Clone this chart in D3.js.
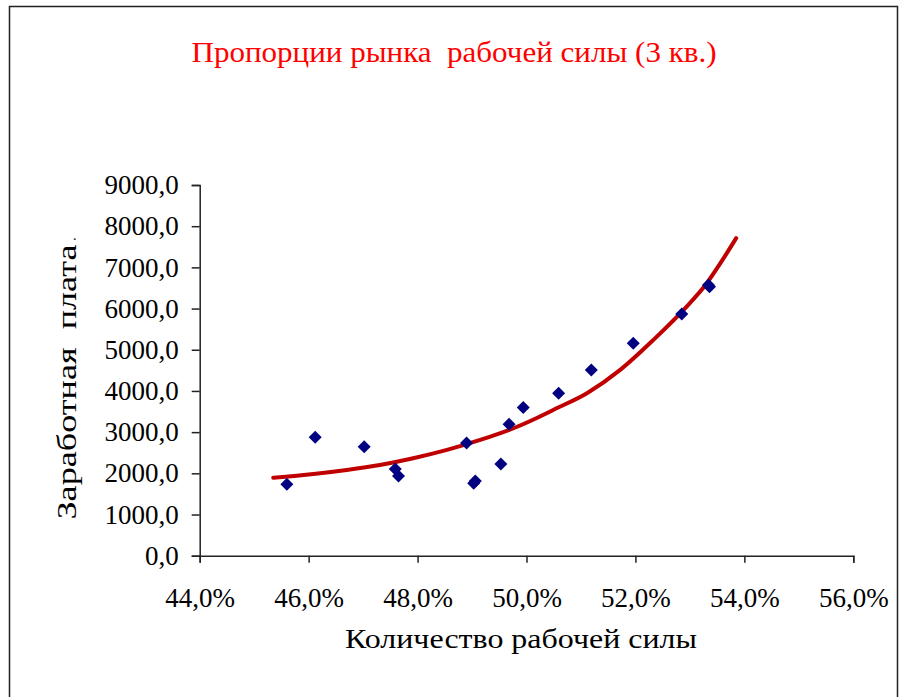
<!DOCTYPE html>
<html>
<head>
<meta charset="utf-8">
<script src="https://cdn.jsdelivr.net/npm/d3@7"></script>
</head>
<body style="margin:0;background:#fff">
<svg id="chart" width="906" height="697" style="display:block"></svg>
<script>
// ---- data ----
const laborShare = [0.4560, 0.4612, 0.4702, 0.4759, 0.4765, 0.4890, 0.4903, 0.4906,
                    0.4953, 0.4968, 0.4994, 0.5059, 0.5119, 0.5196, 0.5285, 0.5334, 0.5336];
const wage = [1734, 2876, 2648, 2106, 1936, 2737, 1758, 1814,
              2227, 3191, 3596, 3944, 4511, 5159, 5871, 6575, 6530];

const trendX = [0.4535, 0.4609, 0.4670, 0.4731, 0.4792, 0.4854, 0.4915, 0.4976,
                0.5037, 0.5049, 0.5111, 0.5172, 0.5233, 0.5294, 0.5331, 0.5356, 0.5385];
const trendY = [1895, 1985, 2082, 2203, 2366, 2568, 2810, 3094,
                3459, 3539, 3945, 4511, 5240, 6048, 6616, 7102, 7710];

const xTicks = [0.44, 0.46, 0.48, 0.50, 0.52, 0.54, 0.56];
const yTicks = [0, 1000, 2000, 3000, 4000, 5000, 6000, 7000, 8000, 9000];

const titleText = "Пропорции рынка  рабочей силы (3 кв.)";
const xTitleText = "Количество рабочей силы";
const yTitleText = "Заработная  плата";

// ---- drawing ----
const FONT = '"Liberation Serif", Tinos, "Times New Roman", FreeSerif';
const svg = d3.select("#chart");

// outer frame (left, top, right)
svg.append("path")
  .attr("d", "M9.5,700 V6.5 H897.5 V700")
  .attr("fill", "none")
  .attr("stroke", "#222")
  .attr("stroke-width", 1.5);

const x = d3.scaleLinear().domain([0.44, 0.56]).range([199.7, 853.3]);
const y = d3.scaleLinear().domain([0, 9000]).range([555.7, 185]);

const fmtY = d => d.toFixed(1).replace(".", ",");
const fmtX = d => (d * 100).toFixed(1).replace(".", ",") + "%";

const yAxis = svg.append("g")
  .attr("transform", `translate(${x(0.44)},0)`)
  .call(d3.axisLeft(y).tickValues(yTicks).tickFormat(fmtY).tickSize(8).tickPadding(13));
const xAxis = svg.append("g")
  .attr("transform", `translate(0,${y(0)})`)
  .call(d3.axisBottom(x).tickValues(xTicks).tickFormat(fmtX).tickSize(7).tickPadding(25));

[xAxis, yAxis].forEach(g => {
  g.attr("font-family", FONT).attr("font-size", 27);
  g.select(".domain").attr("stroke", "#222").attr("stroke-width", 1.5);
  g.selectAll(".tick line").attr("stroke", "#222").attr("stroke-width", 1.5);
  g.selectAll(".tick text")
    .attr("fill", "#000")
    .style("font-family", FONT)
    .style("font-size", "27px");
});

// trend line
const trend = trendX.map((v, i) => [v, trendY[i]]);
svg.append("path")
  .datum(trend)
  .attr("fill", "none")
  .attr("stroke", "#c00000")
  .attr("stroke-width", 4)
  .attr("stroke-linecap", "round")
  .attr("stroke-linejoin", "round")
  .attr("d", d3.line().x(d => x(d[0])).y(d => y(d[1])).curve(d3.curveMonotoneX));

// diamonds
const pts = laborShare.map((v, i) => [v, wage[i]]);
svg.append("g").selectAll("path")
  .data(pts)
  .join("path")
  .attr("transform", d => `translate(${x(d[0])},${y(d[1])})`)
  .attr("d", "M0,-6.5 L6.5,0 L0,6.5 L-6.5,0 Z")
  .attr("fill", "#000080");

// titles
svg.append("text")
  .attr("x", 454).attr("y", 62)
  .attr("text-anchor", "middle")
  .attr("fill", "#ff0000")
  .style("font-family", FONT)
  .style("font-size", "30px")
  .style("white-space", "pre")
  .attr("textLength", 525)
  .attr("lengthAdjust", "spacingAndGlyphs")
  .text(titleText);

svg.append("text")
  .attr("x", 521).attr("y", 648)
  .attr("text-anchor", "middle")
  .attr("fill", "#000")
  .style("font-family", FONT)
  .style("font-size", "28px")
  .attr("textLength", 352)
  .attr("lengthAdjust", "spacingAndGlyphs")
  .text(xTitleText);

svg.append("text")
  .attr("transform", "translate(76,382) rotate(-90)")
  .attr("text-anchor", "middle")
  .attr("fill", "#000")
  .style("font-family", FONT)
  .style("font-size", "28px")
  .style("white-space", "pre")
  .attr("textLength", 275)
  .attr("lengthAdjust", "spacingAndGlyphs")
  .text(yTitleText);

// small stray dot seen left of the axis
svg.append("text")
  .attr("x", 73).attr("y", 240)
  .attr("fill", "#000")
  .style("font-family", FONT)
  .style("font-size", "14px")
  .text(".");
</script>
</body>
</html>
